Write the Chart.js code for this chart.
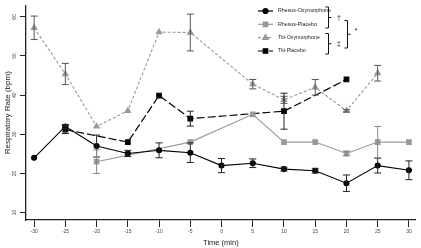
<!DOCTYPE html>
<html>
<head>
<meta charset="utf-8">
<script src="https://cdn.jsdelivr.net/npm/chart.js@4.4.1/dist/chart.umd.min.js"></script>
<style>
  html, body { margin: 0; padding: 0; background: #fff; }
  #wrap { width: 421px; height: 248px; position: relative; }
</style>
</head>
<body>
<div id="wrap"><canvas id="rrChart"></canvas></div>
<script>
// time points (min) and tick marks
const times = [-30, -25, -20, -15, -10, -5, 0, 5, 10, 15, 20, 25, 30];
const xTicks = [-30, -25, -20, -15, -10, -5, 0, 5, 10, 15, 20, 25, 30];
const yTicks = [10, 20, 30, 40, 50, 60];

const rhesusOxy    = [24.0, 32.0, 27.0, 25.1, 25.9, 25.3, 22.0, 22.6, 21.1, 20.7, 17.5, 22.0, 20.8];
const rhesusOxyErr = [0, 0.5, 2.8, 0.8, 1.9, 2.5, 1.8, 1.1, 0.5, 0.6, 2.1, 1.9, 2.4];
const rhesusPla    = [null, null, 23.0, null, null, 28.0, null, 35.1, 28.0, 28.0, 25.1, 28.0, 28.0];
const rhesusPlaErr = [0, 0, 3.0, 0, 0, 0, 0, 0, 0, 0, 0.6, 4.0, 0];
const titiOxy      = [57.2, 45.4, 32.0, 36.0, 56.1, 56.0, null, 42.8, 38.8, 42.0, 36.0, 45.6, null];
const titiOxyErr   = [3.0, 2.7, 0, 0, 0, 4.7, 0, 1.2, 0.9, 2.0, 0.3, 2.0, 0];
const titiPla      = [null, 31.2, null, 28.0, 39.9, 34.0, null, null, 35.9, null, 44.0, null, null];
const titiPlaErr   = [0, 1.0, 0, 0, 0, 1.9, 0, 0, 4.6, 0, 0, 0, 0];

const FONT = "'Liberation Sans', Arial, sans-serif";

function pts(vals) {
  return times.map((t, i) => ({ x: t, y: vals[i] }));
}

// draws the +/- error bars for each dataset
const errorBars = {
  id: 'errorBars',
  afterDatasetsDraw(chart) {
    const ctx = chart.ctx;
    const xs = chart.scales.x, ys = chart.scales.y;
    chart.data.datasets.forEach((ds) => {
      if (!ds.err) return;
      ctx.save();
      ctx.strokeStyle = ds.errColor;
      ctx.lineWidth = 1;
      ds.data.forEach((p, i) => {
        const e = ds.err[i];
        if (p.y == null || !e) return;
        const px = xs.getPixelForValue(p.x);
        const top = ys.getPixelForValue(p.y + e);
        const bot = ys.getPixelForValue(p.y - e);
        ctx.beginPath();
        ctx.moveTo(px, top); ctx.lineTo(px, bot);
        ctx.moveTo(px - 3.5, top); ctx.lineTo(px + 3.5, top);
        ctx.moveTo(px - 3.5, bot); ctx.lineTo(px + 3.5, bot);
        ctx.stroke();
      });
      ctx.restore();
    });
  }
};

// legend in the top-right corner with the significance brackets
const cornerLegend = {
  id: 'cornerLegend',
  afterDraw(chart) {
    const ctx = chart.ctx;
    const rows = [11, 24.3, 37.7, 51];
    ctx.save();
    chart.data.datasets.forEach((ds, i) => {
      const y = rows[i];
      ctx.strokeStyle = ds.borderColor;
      ctx.lineWidth = 1.2;
      ctx.setLineDash(ds.borderDash || []);
      ctx.beginPath();
      ctx.moveTo(258, y); ctx.lineTo(273, y);
      ctx.stroke();
      ctx.setLineDash([]);
      ctx.fillStyle = ds.pointBackgroundColor;
      ctx.strokeStyle = ds.pointBorderColor;
      Chart.helpers.drawPoint(ctx, {
        pointStyle: ds.pointStyle, radius: ds.pointRadius, borderWidth: 1
      }, 265.5, y);
      ctx.fillStyle = '#222';
      ctx.font = '5.3px ' + FONT;
      ctx.textBaseline = 'middle';
      ctx.textAlign = 'left';
      ctx.fillText(ds.label, 278, y);
    });
    // brackets
    ctx.strokeStyle = '#111';
    ctx.lineWidth = 1;
    const bracket = (x, y0, y1) => {
      ctx.beginPath();
      ctx.moveTo(x - 3, y0); ctx.lineTo(x, y0); ctx.lineTo(x, y1); ctx.lineTo(x - 3, y1);
      ctx.moveTo(x, (y0 + y1) / 2); ctx.lineTo(x + 3, (y0 + y1) / 2);
      ctx.stroke();
    };
    bracket(328.5, 7, 28);
    bracket(328.5, 33.5, 54);
    bracket(347.5, 20.5, 48);
    ctx.fillStyle = '#111';
    ctx.textAlign = 'center';
    ctx.font = '7px ' + FONT;
    ctx.fillText('†', 339, 18);
    ctx.fillText('‡', 339, 44);
    ctx.fillText('*', 356, 31);
    ctx.restore();
  }
};

new Chart(document.getElementById('rrChart'), {
  type: 'line',
  data: {
    datasets: [
      {
        label: 'Rhesus-Oxymorphone',
        data: pts(rhesusOxy), err: rhesusOxyErr, errColor: '#222',
        borderColor: '#000', backgroundColor: '#000', borderWidth: 1.1,
        pointStyle: 'circle', pointRadius: 2.5, pointBackgroundColor: '#000', pointBorderColor: '#000'
      },
      {
        label: 'Rhesus-Placebo',
        data: pts(rhesusPla), err: rhesusPlaErr, errColor: '#888',
        borderColor: '#999', backgroundColor: '#999', borderWidth: 1.1,
        pointStyle: 'rect', pointRadius: 3.2, pointBackgroundColor: '#999', pointBorderColor: '#999'
      },
      {
        label: 'Titi-Oxymorphone',
        data: pts(titiOxy), err: titiOxyErr, errColor: '#555',
        borderColor: '#999', backgroundColor: '#999', borderWidth: 1.1, borderDash: [3, 2],
        pointStyle: 'triangle', pointRadius: 3.2, pointBackgroundColor: '#999', pointBorderColor: '#999'
      },
      {
        label: 'Titi-Placebo',
        data: pts(titiPla), err: titiPlaErr, errColor: '#222',
        borderColor: '#000', backgroundColor: '#000', borderWidth: 1.2, borderDash: [8, 3],
        pointStyle: 'rect', pointRadius: 3.2, pointBackgroundColor: '#000', pointBorderColor: '#000'
      }
    ]
  },
  options: {
    responsive: true,
    maintainAspectRatio: false,
    animation: false,
    spanGaps: true,
    layout: { padding: { top: 0, right: 3, left: 0, bottom: 0 } },
    plugins: {
      legend: { display: false },
      tooltip: { enabled: false }
    },
    scales: {
      x: {
        type: 'linear',
        min: -31.3,
        max: 31.1,
        afterBuildTicks: (s) => { s.ticks = xTicks.map((v) => ({ value: v })); },
        afterFit: (s) => { s.height = 28; },
        grid: { display: true, drawOnChartArea: false, drawTicks: true, tickLength: 7, color: '#222', tickWidth: 1 },
        border: { display: true, color: '#222', width: 1.3 },
        ticks: { color: '#444', font: { size: 5, family: FONT }, padding: 2, maxRotation: 0, autoSkip: false },
        title: { display: true, text: 'Time (min)', color: '#222', font: { size: 7.5, family: FONT }, padding: { top: 0, bottom: 1 } }
      },
      y: {
        min: 8.1,
        max: 62.9,
        afterBuildTicks: (s) => { s.ticks = yTicks.map((v) => ({ value: v })); },
        afterFit: (s) => { s.width = 26; },
        grid: { display: true, drawOnChartArea: false, drawTicks: true, tickLength: 6, color: '#222', tickWidth: 1 },
        border: { display: true, color: '#222', width: 1.3 },
        ticks: { color: '#444', font: { size: 5, family: FONT }, padding: 2.5, minRotation: 90, maxRotation: 90, crossAlign: 'center' },
        title: { display: true, text: 'Respiratory Rate (bpm)', color: '#222', font: { size: 8, family: FONT }, padding: { top: 3, bottom: 0 } }
      }
    }
  },
  plugins: [errorBars, cornerLegend]
});
</script>
</body>
</html>
